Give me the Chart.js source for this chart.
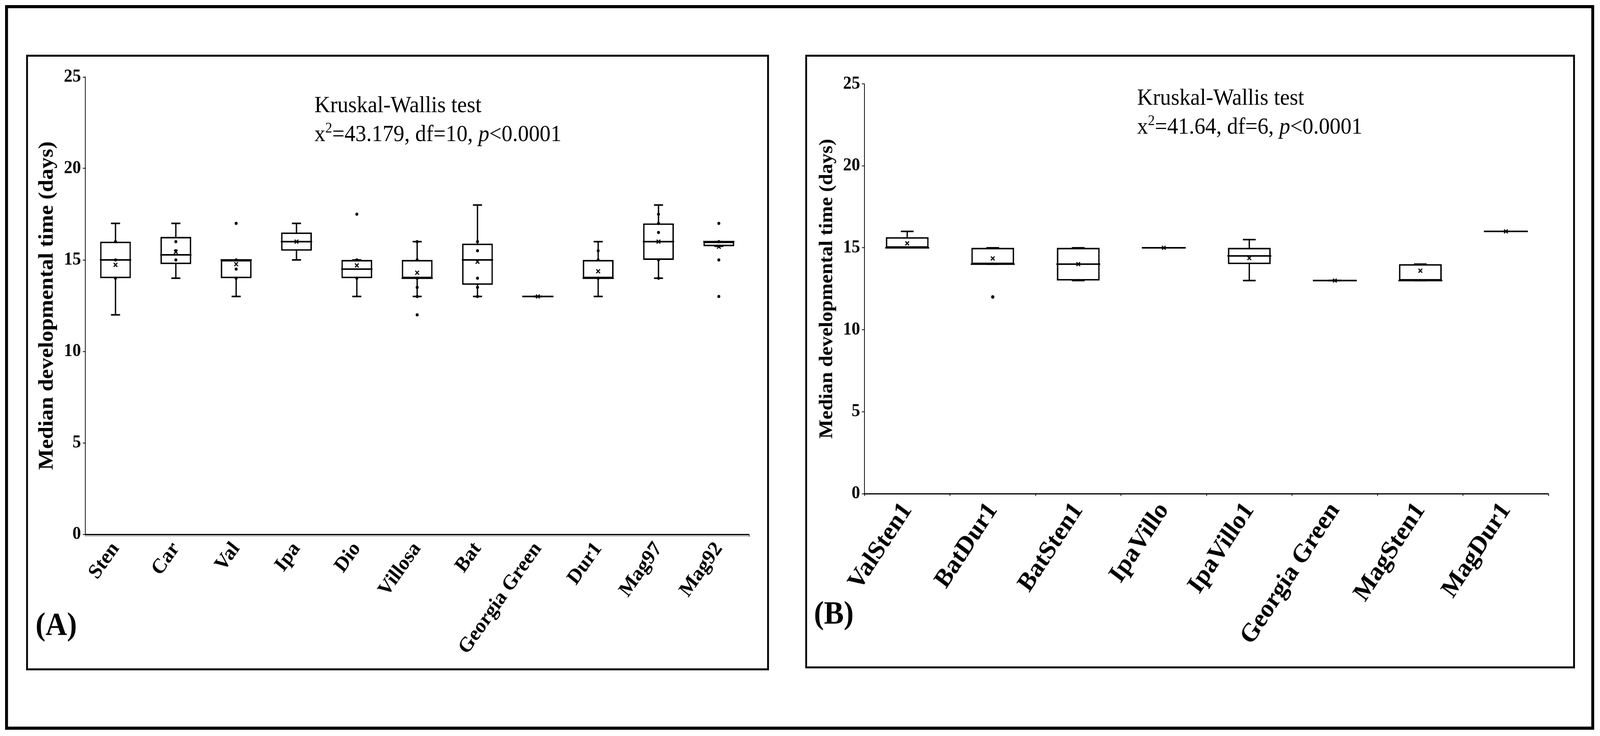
<!DOCTYPE html>
<html>
<head>
<meta charset="utf-8">
<script src="https://cdn.jsdelivr.net/npm/chart.js@4.4.0/dist/chart.umd.min.js"></script>
<style>
html,body{margin:0;padding:0;background:#fff;overflow:hidden;}
#page{position:absolute;left:0;top:0;width:4407px;height:1883px;transform-origin:0 0;font-family:"Liberation Serif",serif;color:#000;}
.frame{position:absolute;left:14px;top:13px;width:4361px;height:1838px;border:8px solid #000;}
.panel{position:absolute;border:5px solid #000;box-sizing:border-box;}
#pA{left:72px;top:140px;width:2046px;height:1575px;}
#pB{left:2218px;top:140px;width:2120px;height:1570px;}
canvas{position:absolute;}
#chartA{left:80px;top:150px;}
#chartB{left:2226px;top:150px;}
.note{position:absolute;font-size:60px;line-height:74px;white-space:nowrap;}
.note sup{font-size:38px;line-height:0;vertical-align:22px;}
.tag{position:absolute;font-size:82px;font-weight:bold;line-height:1;}
</style>
</head>
<body>
<div id="page">
<div class="frame"></div>
<div class="panel" id="pA"></div>
<div class="panel" id="pB"></div>
<canvas id="chartA" width="2030" height="1550"></canvas>
<canvas id="chartB" width="2104" height="1550"></canvas>
<div class="note" style="left:866px;top:230px">Kruskal-Wallis test<br>x<sup>2</sup>=43.179, df=10, <i>p</i>&lt;0.0001</div>
<div class="note" style="left:3132px;top:211px">Kruskal-Wallis test<br>x<sup>2</sup>=41.64, df=6, <i>p</i>&lt;0.0001</div>
<div class="tag" style="left:98px;top:1556px">(A)</div>
<div class="tag" style="left:2242px;top:1527px">(B)</div>
</div>
<script>
const FONT='"Liberation Serif", serif';

// panel A
const catsA=['Sten','Car','Val','Ipa','Dio','Villosa','Bat','Georgia Green','Dur1','Mag97','Mag92'];
const wLoA=[12,14,13,15,13,13,13,13,13,14,15.75];
const q1A=[14,14.77,14,15.5,14,14,13.64,13,14,15,15.75];
const medA=[15,15.28,15,16,14.5,14,15,13,14,16,16];
const q3A=[16,16.26,15,16.5,15,15,15.89,13,15,17,16];
const wHiA=[17,17,15,17,15,16,18,13,16,18,16];
const meanA=[14.73,15.44,14.77,16,14.7,14.3,14.9,13,14.38,16,15.72];
const ptsA=[[16,15,14],[16,15.5,15],[17,15,14.5,14],[],[17.5,15,14],[16,15,14,13.5,13,12],[16,15.5,14,13.5,13],[],[15.5,15,14],[17.5,17,16.5,15,14],[17,16,15,13]];

// panel B
const catsB=['ValSten1','BatDur1','BatSten1','IpaVillo','IpaVillo1','Georgia Green','MagSten1','MagDur1'];
const wLoB=[15,14,13,15,13,13,13,16];
const q1B=[15,14,13,15,14,13,13,16];
const medB=[15,14,14,15,14.5,13,13,16];
const q3B=[15.65,15,15,15,15,13,14,16];
const wHiB=[16,15,15,15,15.5,13,14,16];
const meanB=[15.27,14.35,14,15,14.37,13,13.6,16];
const ptsB=[[],[12],[],[],[],[],[],[]];

const yTicks=[0,5,10,15,20,25];

// fit the 4407x1883 layout into whatever viewport we get
const page=document.getElementById('page');
page.style.transform=`scale(${window.innerWidth/4407},${window.innerHeight/1883})`;

const shadow={id:'shadow',beforeDatasetsDraw(c,a,o){
  if(!o.on)return;
  const ca=c.chartArea,ctx=c.ctx;
  ctx.save();ctx.strokeStyle='#c4c4c4';ctx.lineWidth=4;
  ctx.beginPath();ctx.moveTo(ca.left,ca.bottom+4);ctx.lineTo(ca.right,ca.bottom+4);ctx.stroke();
  ctx.restore();
}};

function boxChart(id,cats,wLo,q1,med,q3,wHi,mean,pts,st){
  const dots=[];
  pts.forEach((arr,i)=>arr.forEach(v=>dots.push({x:cats[i],y:v})));
  const pt=(data,style,r,extra)=>Object.assign({type:'line',data,showLine:false,pointStyle:style,pointRadius:r,pointHoverRadius:r,
    pointBorderColor:'#000',pointBackgroundColor:'#000',pointBorderWidth:3},extra);
  return new Chart(document.getElementById(id),{
    type:'bar',
    data:{labels:cats,datasets:[
      pt(mean,'crossRot',st.meanR,{order:1}),
      pt(dots,'circle',st.dotR,{pointBorderWidth:0,order:2}),
      pt(med,'line',st.half,{pointBorderWidth:4,order:3}),
      pt(wLo,'line',st.cap,{pointBorderWidth:4,order:3}),
      pt(wHi,'line',st.cap,{pointBorderWidth:4,order:3}),
      {data:q1.map((v,i)=>[v,q3[i]]),backgroundColor:'#fff',borderColor:'#000',borderWidth:4,borderSkipped:false,
        grouped:false,barPercentage:st.boxPct,categoryPercentage:1,order:4},
      {data:wLo.map((v,i)=>[v,wHi[i]]),backgroundColor:'#000',borderWidth:0,grouped:false,barThickness:3,order:5}
    ]},
    options:{
      responsive:false,devicePixelRatio:1,animation:false,
      layout:{padding:{left:st.padL,top:38,right:st.padR,bottom:0}},
      plugins:{legend:{display:false},tooltip:{enabled:false},shadow:{on:st.shadow}},
      scales:{
        x:{grid:{drawOnChartArea:false,tickLength:6,tickWidth:2,tickColor:'#000'},
          border:{color:'#000',width:3},
          ticks:{color:'#000',font:{family:FONT,size:st.xFont,weight:'bold'},minRotation:st.rot,maxRotation:st.rot,autoSkip:false,padding:2},
          afterFit(s){s.height=st.xH;}},
        y:{min:0,max:25,afterBuildTicks(s){s.ticks=yTicks.map(v=>({value:v}));},
          grid:{drawOnChartArea:false,tickLength:7,tickWidth:2,tickColor:'#000'},
          border:{color:'#000',width:2},
          ticks:{color:'#000',font:{family:FONT,size:47,weight:'bold'},padding:5},
          title:{display:true,text:'Median developmental time (days)',color:'#000',
            font:{family:FONT,size:st.yTitle,weight:'bold'},padding:{top:0,bottom:0}},
          afterFit(s){s.width=st.yW;}}
      }
    },
    plugins:[shadow]
  });
}

boxChart('chartA',catsA,wLoA,q1A,medA,q3A,wHiA,meanA,ptsA,
  {padL:16,padR:12,yW:139,xH:333,xFont:54,rot:53,yTitle:57,boxPct:0.51,half:43,cap:12.5,meanR:7,dotR:4,shadow:true});
boxChart('chartB',catsB,wLoB,q1B,medB,q3B,wHiB,meanB,ptsB,
  {padL:21,padR:9,yW:134,xH:437,xFont:67,rot:55,yTitle:52,boxPct:0.5,half:60.5,cap:17.5,meanR:7,dotR:4.5,shadow:false});
</script>
</body>
</html>
